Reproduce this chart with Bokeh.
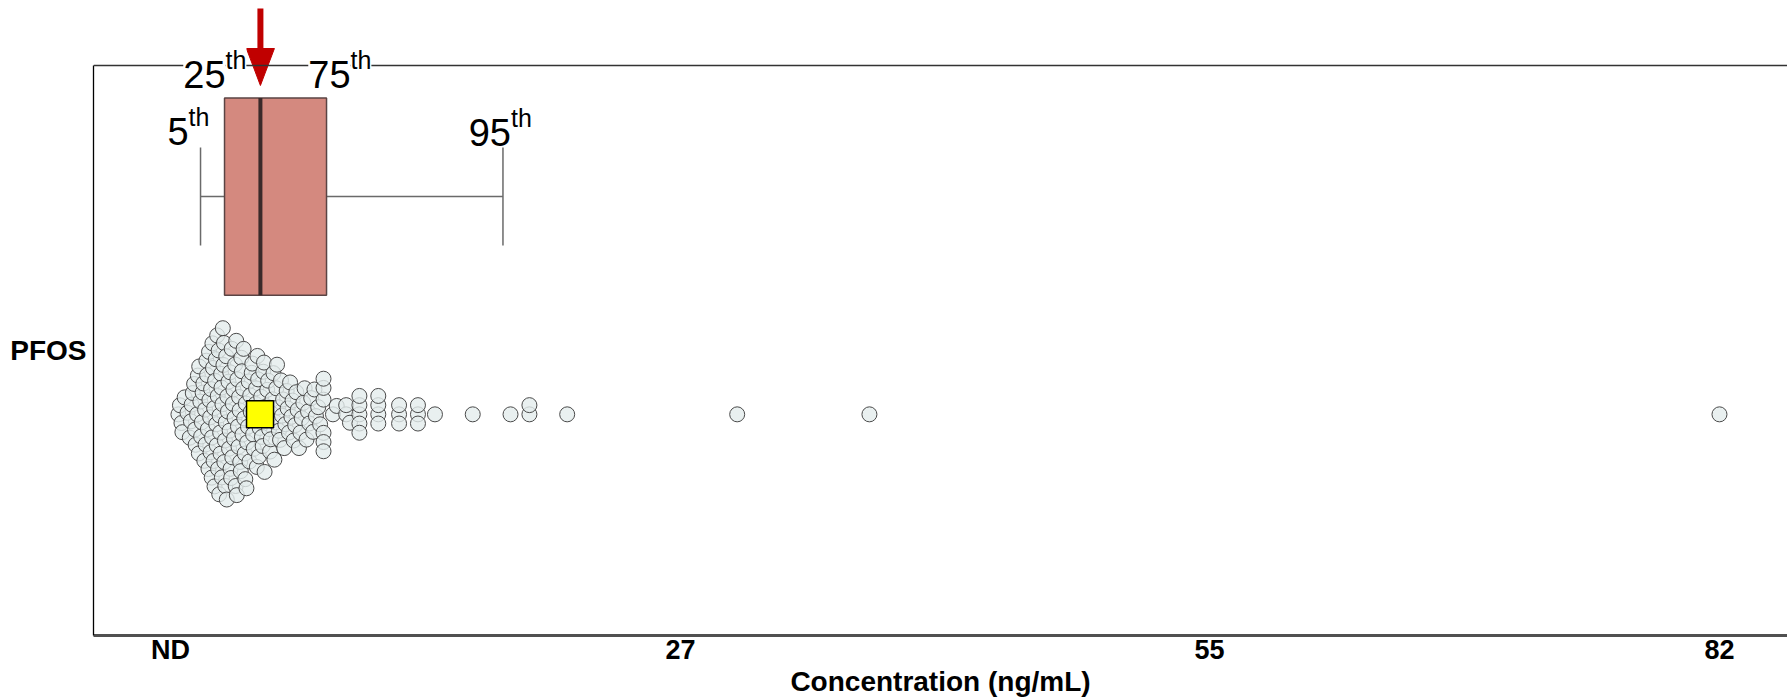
import math
from bokeh.plotting import figure
from bokeh.models import Range1d, FixedTicker, Label, Span, ColumnDataSource
from bokeh.embed import file_html
from bokeh.resources import INLINE

# ---------------- data ----------------
category = ["PFOS"]
x_ticks = [0, 27, 55, 82]
x_tick_labels = ["ND", "27", "55", "82"]
percentile_names = ["5", "25", "50", "75", "95"]
percentile_values = [1.59, 2.86, 4.76, 8.26, 17.6]
mean_value = [4.74]
concentrations = [
    0.42, 0.5, 0.58, 0.63, 0.75, 0.9,
    1.02, 1.08, 1.12, 1.18, 1.25, 1.3, 1.33, 1.41, 1.45, 1.5, 1.52, 1.58, 1.62, 1.66,
    1.7, 1.74, 1.79, 1.83, 1.86, 1.9, 1.94, 1.98,
    2.01, 2.04, 2.06, 2.1, 2.12, 2.15, 2.18, 2.2, 2.22, 2.25, 2.28, 2.31, 2.33, 2.36,
    2.4, 2.42, 2.45, 2.47, 2.5, 2.52, 2.55, 2.58, 2.6, 2.63, 2.65, 2.68, 2.7, 2.72,
    2.75, 2.77, 2.8, 2.83, 2.85, 2.88, 2.9, 2.93, 2.95, 2.98,
    3.01, 3.04, 3.07, 3.1, 3.13, 3.16, 3.18, 3.21, 3.24, 3.27, 3.3, 3.33, 3.36, 3.39,
    3.42, 3.45, 3.48, 3.51, 3.54, 3.57, 3.6, 3.63, 3.66, 3.69, 3.72, 3.75, 3.78, 3.81,
    3.84, 3.87, 3.9, 3.93, 3.96, 3.99,
    4.02, 4.06, 4.1, 4.14, 4.18, 4.22, 4.25, 4.3, 4.33, 4.37, 4.41, 4.45, 4.5, 4.53,
    4.57, 4.6, 4.64, 4.68, 4.72, 4.75, 4.8, 4.84, 4.88, 4.91, 4.95, 4.98,
    5.03, 5.08, 5.12, 5.17, 5.22, 5.27, 5.31, 5.36, 5.4, 5.45, 5.5, 5.55, 5.6, 5.64,
    5.7, 5.74, 5.8, 5.85, 5.9, 5.96,
    6.02, 6.08, 6.15, 6.2, 6.27, 6.33, 6.4, 6.46, 6.52, 6.6, 6.66, 6.73, 6.8, 6.88, 6.95,
    7.03, 7.1, 7.2, 7.28, 7.35, 7.45, 7.55, 7.62, 7.7, 7.82, 7.92,
    8.1, 8.1, 8.1, 8.1, 8.1, 8.1, 8.6, 8.8,
    9.3, 9.3, 9.5,
    10.0, 10.0, 10.0, 10.0, 10.0,
    11.0, 11.0, 11.0, 11.0,
    12.1, 12.1, 12.1,
    13.1, 13.1, 13.1,
    14.0, 16.0, 18.0, 19.0, 19.0, 21.0, 30.0, 37.0, 82.0,
]

# ---------------- layout ----------------
W, H = 1787, 700
ML, MR, MT, MB = 93, 0, 0, 65
PX_ZERO = 170.0            # page x of the value 0
PX_PER_UNIT = 18.89
X0 = (ML - PX_ZERO) / PX_PER_UNIT
X1 = (W - MR - PX_ZERO) / PX_PER_UNIT
Y_UNIT_PX = 570.0          # pixels between y=0 (frame bottom) and y=1 (box frame top)
Y1 = (H - MB) / Y_UNIT_PX

CAT_Y = 0.5
BOX_Y, BOX_HALF, CAP_HALF = 0.770, 0.173, 0.086
DOT_Y = 0.388
DOT_SIZE = 15
MIN_DIST = 9.2


def swarm_offsets(values, d):
    order = sorted(range(len(values)), key=lambda i: values[i])
    placed = []
    offs = [0.0] * len(values)
    for i in order:
        x = values[i] * PX_PER_UNIT
        near = [(px, py) for (px, py) in placed if abs(x - px) < d]
        cands = [0.0]
        for px, py in near:
            dy = math.sqrt(d * d - (x - px) ** 2)
            cands += [py + dy, py - dy]
        cands.sort(key=abs)
        for c in cands:
            if all((x - px) ** 2 + (c - py) ** 2 >= d * d - 1e-6 for px, py in near):
                offs[i] = c
                placed.append((x, c))
                break
    return offs


offs = swarm_offsets(concentrations, MIN_DIST)
dot_src = ColumnDataSource(dict(x=concentrations, y=[DOT_Y + o / Y_UNIT_PX for o in offs]))

p = figure(width=W, height=H, output_backend="svg", toolbar_location=None,
           x_range=Range1d(X0, X1), y_range=Range1d(0, Y1),
           min_border_left=ML, min_border_right=MR, min_border_top=MT, min_border_bottom=MB,
           background_fill_color="white", border_fill_color="white")
p.outline_line_color = None
p.xgrid.visible = False
p.ygrid.visible = False

FONT = "Liberation Sans"

# x axis
xa = p.xaxis[0]
xa.ticker = FixedTicker(ticks=x_ticks)
xa.major_label_overrides = dict(zip(x_ticks, x_tick_labels))
xa.axis_label = "Concentration (ng/mL)"
xa.axis_label_text_font = FONT
xa.axis_label_text_font_style = "bold"
xa.axis_label_text_font_size = "28px"
xa.axis_label_text_color = "black"
xa.axis_label_standoff = -2
xa.major_label_text_font = FONT
xa.major_label_text_font_style = "bold"
xa.major_label_text_font_size = "27px"
xa.major_label_text_color = "black"
xa.major_label_standoff = -7
xa.major_tick_line_color = None
xa.minor_tick_line_color = None
xa.axis_line_color = "#505050"
xa.axis_line_width = 3

# y axis (its line is the left border of the box frame)
ya = p.yaxis[0]
ya.ticker = FixedTicker(ticks=[CAT_Y])
ya.major_label_overrides = {CAT_Y: category[0]}
ya.bounds = (0, 1)
ya.major_label_text_font = FONT
ya.major_label_text_font_style = "bold"
ya.major_label_text_font_size = "28px"
ya.major_label_text_color = "black"
ya.major_label_standoff = 1
ya.major_tick_line_color = None
ya.minor_tick_line_color = None
ya.axis_line_color = "black"
ya.axis_line_width = 1.3

# top border of the box frame
p.add_layout(Span(location=1, dimension="width", line_color="#333333", line_width=1.5))

# box and whiskers
p5, p25, p50, p75, p95 = percentile_values
p.segment(x0=[p5, p75], y0=[BOX_Y, BOX_Y], x1=[p25, p95], y1=[BOX_Y, BOX_Y],
          line_color="#6a6a6a", line_width=1.5)
p.segment(x0=[p5, p95], y0=[BOX_Y - CAP_HALF] * 2, x1=[p5, p95], y1=[BOX_Y + CAP_HALF] * 2,
          line_color="#6a6a6a", line_width=1.5)
p.quad(left=[p25], right=[p75], bottom=[BOX_Y - BOX_HALF], top=[BOX_Y + BOX_HALF],
       fill_color="#D4897F", line_color="#5a4444", line_width=1.5)
p.segment(x0=[p50], y0=[BOX_Y - BOX_HALF], x1=[p50], y1=[BOX_Y + BOX_HALF],
          line_color="#3a2a2a", line_width=4)

# swarm dots
p.scatter("x", "y", source=dot_src, size=DOT_SIZE, marker="circle",
          fill_color="#E3ECEC", fill_alpha=0.8, line_color="#4a4a4a", line_width=1)

# mean
p.scatter(x=mean_value, y=[DOT_Y], marker="square", size=27,
          fill_color="#FFFF00", line_color="black", line_width=1.5)

# percentile labels: (index, x pixel offset, digits baseline y, "th" baseline y, white background)
label_specs = [(0, -12, 0.884, 0.910, False), (1, 1, 0.984, 1.010, True),
               (3, 24, 0.984, 1.010, True), (4, 8, 0.882, 0.908, False)]
for idx, xo, yb, yt, bg in label_specs:
    bgc = "white" if bg else None
    p.add_layout(Label(x=percentile_values[idx], y=yb, x_offset=xo, text=percentile_names[idx],
                       text_align="right", text_baseline="alphabetic", text_font=FONT,
                       text_font_size="38px", text_color="black", background_fill_color=bgc))
    p.add_layout(Label(x=percentile_values[idx], y=yt, x_offset=xo, text="th",
                       text_align="left", text_baseline="alphabetic", text_font=FONT,
                       text_font_size="25px", text_color="black", background_fill_color=bgc))

# red arrow pointing at the median (shaft + head)
head_half_w = 14.0 / PX_PER_UNIT
shaft_top_y = (H - MB - 8) / Y_UNIT_PX
head_base_y = (H - MB - 48) / Y_UNIT_PX
tip_y = (H - MB - 85) / Y_UNIT_PX
p.segment(x0=[p50], y0=[shaft_top_y], x1=[p50], y1=[head_base_y], line_color="#C00000", line_width=6)
p.patch(x=[p50 - head_half_w, p50 + head_half_w, p50], y=[head_base_y, head_base_y, tip_y],
        fill_color="#C00000", line_color="#C00000", line_width=1)

open("out.html", "w").write(file_html(p, INLINE))
